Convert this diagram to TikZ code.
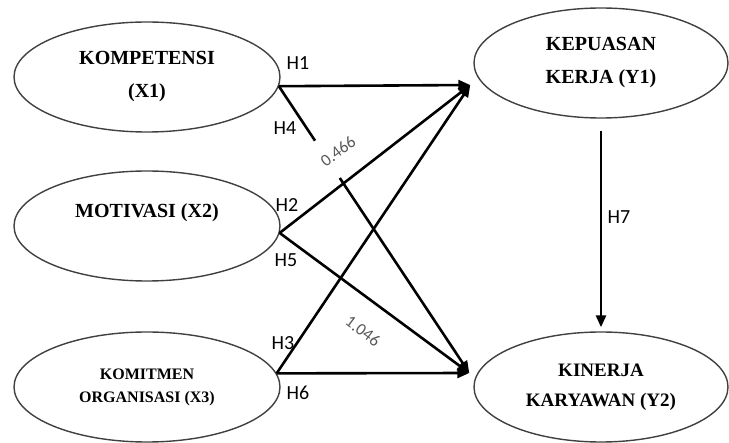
\documentclass[tikz,border=0pt]{standalone}
\usepackage{fontspec}
\setmainfont{Liberation Serif}
\newfontfamily\calfont{Carlito}
\usetikzlibrary{shapes.geometric,arrows.meta,calc}

\begin{document}
\begin{tikzpicture}[
  x=0.5pt,y=-0.5pt,
  var/.style={ellipse,draw=black!75,line width=0.7pt,minimum width=133pt,minimum height=55pt,align=center,font=\bfseries\fontsize{10}{16.5}\selectfont},
  arrow/.style={-{Triangle[length=6pt,width=5pt]},line width=1.3pt},
  hyp/.style={font=\calfont\fontsize{10}{12}\selectfont},
  coef/.style={font=\calfont\fontsize{8.5}{10}\selectfont,text=black!65,inner sep=1pt}
]
\useasboundingbox (0,0) rectangle (729,443);
\node[var] (X1) at (147,77) {KOMPETENSI\\(X1)};
\node[var] (X2) at (147,226) {};
\node[font=\bfseries\fontsize{10}{16.5}\selectfont] (X2t) at (147,213) {MOTIVASI (X2)};
\node[var,font=\bfseries\fontsize{8}{11.5}\selectfont] (X3) at (147,387) {KOMITMEN\\ORGANISASI (X3)};
\node[var,minimum width=127pt] (Y1) at (601,63) {KEPUASAN\\KERJA (Y1)};
\node[var,minimum width=127pt,font=\bfseries\fontsize{9.5}{15}\selectfont] (Y2) at (601,387) {KINERJA\\KARYAWAN (Y2)};
\coordinate (y1hub) at ([shift={(-3,22)}]Y1.west);
\coordinate (y2hub) at ([shift={(-4,-14)}]Y2.west);
% paths into Y1 and Y2
\draw[arrow] (X1.-4) -- (y1hub);
\draw[line width=1.3pt] (X1.-4) -- ($(X1.-4)!0.19!(y2hub)$);
\draw[arrow] ($(X1.-4)!0.32!(y2hub)$) -- (y2hub);
\draw[arrow] (X2.-3) -- (y1hub);
\draw[arrow] (X2.-3) -- (y2hub);
\draw[arrow] (X3.6) -- (y1hub);
\draw[arrow] (X3.6) -- (y2hub);
\draw[arrow,shorten <=6pt,shorten >=2pt] (Y1.south) -- (Y2.north);
% labels
\node[hyp] (h1) at (298,63) {H1};
\node[hyp] (h4) at (285,128) {H4};
\node[hyp] (h2) at (287,205) {H2};
\node[hyp] (h5) at (286,260) {H5};
\node[hyp] (h3) at (283,343) {H3};
\node[hyp] (h6) at (298,393) {H6};
\node[hyp] (h7) at (619,217) {H7};
\node[coef,rotate=37] (c1) at (338,151) {0.466};
\node[coef,rotate=-37] (c2) at (363,331) {1.046};
\end{tikzpicture}
\end{document}
